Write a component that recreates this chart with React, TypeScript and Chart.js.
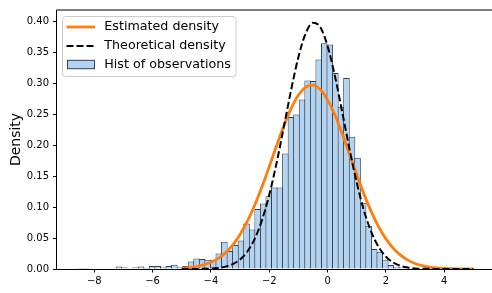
import React, { useEffect, useRef } from 'react';
import { Chart, registerables } from 'chart.js';

Chart.register(...registerables);

// Histogram: bin edges start and width, and densities per bin
const binStart = -8.583;
const binWidth = 0.1903;
const histDensity = [
  0.0016, 0.0016, 0, 0, 0, 0, 0, 0.004, 0.003, 0,
  0.003, 0.004, 0.002, 0.005, 0.005, 0.003, 0.005, 0.007, 0.003, 0.005,
  0.012, 0.017, 0.016, 0.015, 0.015, 0.025, 0.044, 0.029, 0.039, 0.046,
  0.0735, 0.064, 0.097, 0.106, 0.1176, 0.132, 0.132, 0.187, 0.246, 0.25,
  0.274, 0.305, 0.304, 0.339, 0.365, 0.363, 0.317, 0.2625, 0.309, 0.214,
  0.18, 0.107, 0.07, 0.0325, 0.028, 0.014, 0.0063, 0.0037, 0.0026,
];

// Density curves sampled along x
const curveX = [
  -5, -4.75, -4.5, -4.25, -4, -3.75, -3.5, -3.25, -3, -2.75,
  -2.5, -2.25, -2, -1.75, -1.5, -1.25, -1, -0.75, -0.5, -0.25,
  0, 0.25, 0.5, 0.75, 1, 1.25, 1.5, 1.75, 2, 2.25,
  2.5, 2.75, 3, 3.25, 3.5, 3.75, 4, 4.25, 4.5, 4.75, 5,
];
const estimatedDensity = [
  0.0012, 0.0022, 0.0039, 0.0066, 0.0108, 0.0172, 0.0264, 0.0391, 0.0559, 0.0773,
  0.1032, 0.1331, 0.1657, 0.1993, 0.2315, 0.2597, 0.2813, 0.2943, 0.2974, 0.2902,
  0.2736, 0.249, 0.2189, 0.1859, 0.1524, 0.1207, 0.0923, 0.0682, 0.0487, 0.0335,
  0.0223, 0.0144, 0.0089, 0.0053, 0.0031, 0.0017, 0.0009, 0.0005, 0.0003, 0.0001, 0.0001,
];
const theoreticalDensity = [
  0, 0, 0.0001, 0.0003, 0.0007, 0.0017, 0.0038, 0.0079, 0.0155, 0.0283,
  0.0488, 0.079, 0.12, 0.1714, 0.2299, 0.2897, 0.3429, 0.3814, 0.3984, 0.391,
  0.3605, 0.3122, 0.254, 0.1942, 0.1394, 0.094, 0.0596, 0.0355, 0.0198, 0.0104,
  0.0051, 0.0024, 0.001, 0.0004, 0.0002, 0.0001, 0, 0, 0, 0, 0,
];

const xTickValues = [-8, -6, -4, -2, 0, 2, 4];
const yTickValues = [0, 0.05, 0.1, 0.15, 0.2, 0.25, 0.3, 0.35, 0.4];

const seriesLabels = ['Estimated density', 'Theoretical density', 'Hist of observations'];
const yAxisLabel = 'Density';

const ORANGE = '#ff7f0e';
const BAR_FILL = '#b3d3f2';
const BAR_EDGE = '#34404c';
const FONT = '"DejaVu Sans", Verdana, sans-serif';

const fmtX = (v: number) => (v < 0 ? '\u2212' + Math.abs(v) : String(v));

const framePlugin = {
  id: 'frame',
  afterDatasetsDraw(chart: any) {
    const { ctx, chartArea: a } = chart;
    ctx.save();
    ctx.strokeStyle = '#000';
    ctx.lineWidth = 1;
    ctx.beginPath();
    ctx.moveTo(a.left, a.top);
    ctx.lineTo(a.right, a.top);
    ctx.lineTo(a.right, a.bottom);
    ctx.stroke();
    ctx.restore();
  },
  afterDraw(chart: any) {
    const { ctx, chartArea: a } = chart;
    const labels = chart.data.datasets.map((d: any) => d.label);
    ctx.save();
    // legend box
    const bx = a.left + 6, by = a.top + 6.5, bw = 173.5, bh = 60, r = 3;
    ctx.beginPath();
    ctx.moveTo(bx + r, by);
    ctx.lineTo(bx + bw - r, by);
    ctx.quadraticCurveTo(bx + bw, by, bx + bw, by + r);
    ctx.lineTo(bx + bw, by + bh - r);
    ctx.quadraticCurveTo(bx + bw, by + bh, bx + bw - r, by + bh);
    ctx.lineTo(bx + r, by + bh);
    ctx.quadraticCurveTo(bx, by + bh, bx, by + bh - r);
    ctx.lineTo(bx, by + r);
    ctx.quadraticCurveTo(bx, by, bx + r, by);
    ctx.closePath();
    ctx.fillStyle = 'rgba(255,255,255,0.8)';
    ctx.fill();
    ctx.strokeStyle = '#cccccc';
    ctx.lineWidth = 1;
    ctx.stroke();

    const hx0 = a.left + 10, hx1 = a.left + 38.5;
    const rows = [a.top + 17, a.top + 36, a.top + 54.5];
    // estimated line
    ctx.strokeStyle = ORANGE;
    ctx.lineWidth = 2.8;
    ctx.beginPath();
    ctx.moveTo(hx0, rows[0]);
    ctx.lineTo(hx1, rows[0]);
    ctx.stroke();
    // theoretical dashed
    ctx.strokeStyle = '#000';
    ctx.lineWidth = 2;
    ctx.setLineDash([7, 3]);
    ctx.beginPath();
    ctx.moveTo(hx0, rows[1]);
    ctx.lineTo(hx1, rows[1]);
    ctx.stroke();
    ctx.setLineDash([]);
    // patch
    ctx.fillStyle = BAR_FILL;
    ctx.fillRect(hx0 + 1, rows[2] - 4.2, hx1 - hx0 - 1.5, 8.4);
    ctx.strokeStyle = BAR_EDGE;
    ctx.lineWidth = 1;
    ctx.strokeRect(hx0 + 1, rows[2] - 4.2, hx1 - hx0 - 1.5, 8.4);

    ctx.fillStyle = '#000';
    ctx.font = '12.7px ' + FONT;
    ctx.textBaseline = 'alphabetic';
    ctx.textAlign = 'left';
    const order = [0, 1, 2];
    order.forEach((i, j) => {
      ctx.fillText(labels[i], a.left + 47.8, rows[j] + 3.4);
    });
    ctx.restore();
  },
};

export default function App() {
  const ref = useRef<HTMLCanvasElement>(null);

  useEffect(() => {
    const canvas = ref.current;
    if (!canvas) return;
    const binCenters = histDensity.map((_, i) => binStart + (i + 0.5) * binWidth);
    const chart = new Chart(canvas, {
      type: 'bar',
      data: {
        datasets: [
          {
            type: 'line',
            label: seriesLabels[0],
            data: curveX.map((x, i) => ({ x, y: estimatedDensity[i] })),
            borderColor: ORANGE,
            borderWidth: 2.8,
            pointRadius: 0,
            fill: false,
            cubicInterpolationMode: 'monotone',
            order: 1,
          } as any,
          {
            type: 'line',
            label: seriesLabels[1],
            data: curveX.map((x, i) => ({ x, y: theoreticalDensity[i] })),
            borderColor: '#000',
            borderWidth: 2,
            borderDash: [7, 3],
            pointRadius: 0,
            fill: false,
            cubicInterpolationMode: 'monotone',
            order: 0,
          } as any,
          {
            type: 'bar',
            label: seriesLabels[2],
            data: binCenters.map((x, i) => ({ x, y: histDensity[i] })),
            backgroundColor: BAR_FILL,
            borderColor: BAR_EDGE,
            borderWidth: 1,
            barPercentage: 1.18,
            categoryPercentage: 1,
            inflateAmount: 0,
            order: 2,
          } as any,
        ],
      },
      options: {
        responsive: false,
        animation: false,
        devicePixelRatio: 1,
        layout: { padding: { top: 3, right: 7, left: 0, bottom: 0 } },
        plugins: {
          legend: { display: false },
          tooltip: { enabled: false },
        },
        scales: {
          x: {
            type: 'linear',
            min: -9.294,
            max: 5.67,
            offset: false,
            grid: {
              display: true,
              offset: false,
              drawOnChartArea: false,
              drawTicks: true,
              tickLength: 3.5,
              tickWidth: 1,
              tickColor: '#000',
            },
            border: { display: true, color: '#000', width: 1 },
            ticks: {
              autoSkip: false,
              maxRotation: 0,
              includeBounds: false,
              padding: 3,
              color: '#000',
              font: { family: FONT, size: 10 },
              callback: (v: any) => fmtX(Number(v)),
            },
            afterBuildTicks: (axis: any) => {
              axis.ticks = xTickValues.map((v) => ({ value: v }));
            },
            afterFit: (scale: any) => {
              scale.height = 24;
            },
          },
          y: {
            type: 'linear',
            min: 0,
            max: 0.4189,
            grid: {
              display: true,
              drawOnChartArea: false,
              drawTicks: true,
              tickLength: 3.5,
              tickWidth: 1,
              tickColor: '#000',
            },
            border: { display: true, color: '#000', width: 1 },
            ticks: {
              autoSkip: false,
              includeBounds: false,
              padding: 4,
              color: '#000',
              font: { family: FONT, size: 10 },
              callback: (v: any) => Number(v).toFixed(2),
            },
            afterBuildTicks: (axis: any) => {
              axis.ticks = yTickValues.map((v) => ({ value: v }));
            },
            title: {
              display: true,
              text: yAxisLabel,
              color: '#000',
              font: { family: FONT, size: 14 },
              padding: { top: 7.6, bottom: 0 },
            },
            afterFit: (scale: any) => {
              scale.width = 56.5;
            },
          },
        },
      } as any,
      plugins: [framePlugin],
    });
    return () => chart.destroy();
  }, []);

  return (
    <div
      style={{
        position: 'fixed',
        left: 0,
        top: 0,
        width: 492,
        height: 293,
        overflow: 'hidden',
        background: '#fff',
      }}
    >
      <canvas ref={ref} width={500} height={293} style={{ display: 'block', width: 500, height: 293 }} />
    </div>
  );
}
